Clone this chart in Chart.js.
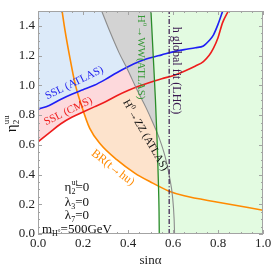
<!DOCTYPE html>
<html>
<head>
<meta charset="utf-8">
<script src="https://cdn.jsdelivr.net/npm/chart.js@4.4.0/dist/chart.umd.min.js"></script>
<style>
  html, body { margin: 0; padding: 0; background: #fff; }
  #wrap { width: 274px; height: 274px; }
</style>
</head>
<body>
<div id="wrap"><canvas id="plot"></canvas></div>
<script>
// curves: sin(alpha) -> eta2^uu
const sslAtlasX = [0, 0.05, 0.1, 0.15, 0.2, 0.25, 0.3, 0.35, 0.4, 0.45, 0.5, 0.55, 0.6, 0.65, 0.7, 0.735, 0.76, 0.78, 0.8, 0.821];
const sslAtlasY = [0.84, 0.865, 0.905, 0.94, 0.97, 1.0, 1.04, 1.085, 1.125, 1.16, 1.185, 1.205, 1.225, 1.24, 1.253, 1.265, 1.3, 1.34, 1.41, 1.5];

const sslCmsX = [0, 0.05, 0.1, 0.15, 0.2, 0.25, 0.3, 0.35, 0.4, 0.45, 0.5, 0.55, 0.6, 0.65, 0.7, 0.735, 0.76, 0.78, 0.8, 0.82, 0.846];
const sslCmsY = [0.62, 0.68, 0.74, 0.785, 0.82, 0.855, 0.89, 0.93, 0.965, 0.995, 1.02, 1.045, 1.065, 1.095, 1.13, 1.16, 1.2, 1.25, 1.32, 1.42, 1.5];

const brX = [0.107, 0.12, 0.14, 0.165, 0.19, 0.23, 0.28, 0.35, 0.43, 0.5, 0.58, 0.65, 0.8, 1.0];
const brY = [1.5, 1.37, 1.2, 1.01, 0.88, 0.71, 0.6, 0.5, 0.41, 0.35, 0.29, 0.257, 0.214, 0.16];

const zzX = [0.283, 0.32, 0.36, 0.40, 0.44, 0.48, 0.51, 0.54, 0.565, 0.585, 0.598, 0.605, 0.607];
const zzY = [1.5, 1.36, 1.22, 1.1, 0.97, 0.85, 0.75, 0.64, 0.52, 0.38, 0.25, 0.1, 0];

const wwX = [0.502, 0.512, 0.522, 0.53, 0.535, 0.538, 0.539];
const wwY = [1.5, 1.2, 0.9, 0.6, 0.35, 0.15, 0];

const hfitX = [0.583, 0.583];
const hfitY = [0, 1.5];

const xTicks = [0, 0.2, 0.4, 0.6, 0.8, 1.0];
const yTicks = [0, 0.2, 0.4, 0.6, 0.8, 1.0, 1.2, 1.4];

const serif = '"Liberation Serif", "DejaVu Serif", serif';

function pts(xs, ys) {
  return xs.map((x, i) => ({x: x, y: ys[i]}));
}

// draw a run of text pieces {t, s (font px), dy, adv}
function richText(ctx, parts, cx, cy, angle, color) {
  ctx.save();
  ctx.translate(cx, cy);
  ctx.rotate(angle * Math.PI / 180);
  ctx.fillStyle = color;
  ctx.textBaseline = 'alphabetic';
  ctx.textAlign = 'left';
  let w = 0, big = 0;
  parts.forEach(p => {
    ctx.font = p.s + 'px ' + serif;
    p.w = ctx.measureText(p.t).width;
    if (p.adv !== false) w += p.w;
    big = Math.max(big, p.s);
  });
  let x = -w / 2;
  const base = big * 0.33;
  parts.forEach(p => {
    ctx.font = p.s + 'px ' + serif;
    ctx.fillText(p.t, x, base + (p.dy || 0));
    if (p.adv !== false) x += p.w;
  });
  ctx.restore();
}

const plain = (t, s) => [{t: t, s: s}];

const decor = {
  id: 'decor',
  afterDatasetsDraw(chart) {
    const {ctx, chartArea: a, scales: {x, y}} = chart;
    ctx.save();
    // frame + inward ticks
    ctx.strokeStyle = '#a3a3a3';
    ctx.lineWidth = 1;
    ctx.strokeRect(a.left + 0.5, a.top + 0.5, a.right - a.left - 1, a.bottom - a.top - 1);
    ctx.beginPath();
    for (let i = 0; i <= 20; i++) {
      const px = Math.round(x.getPixelForValue(i * 0.05)) + 0.5;
      const len = i % 4 === 0 ? 4 : 2;
      ctx.moveTo(px, a.bottom); ctx.lineTo(px, a.bottom - len);
      ctx.moveTo(px, a.top); ctx.lineTo(px, a.top + len);
    }
    for (let i = 0; i <= 30; i++) {
      const py = Math.round(y.getPixelForValue(i * 0.05)) + 0.5;
      const len = i % 4 === 0 ? 4 : 2;
      ctx.moveTo(a.left, py); ctx.lineTo(a.left + len, py);
      ctx.moveTo(a.right, py); ctx.lineTo(a.right - len, py);
    }
    ctx.stroke();
    ctx.restore();

    const at = (sx, eta) => [x.getPixelForValue(sx), y.getPixelForValue(eta)];
    let p;
    p = at(0.16, 1.02);  richText(ctx, plain('SSL (ATLAS)', 11), p[0], p[1], -26, '#2323ee');
    p = at(0.133, 0.83); richText(ctx, plain('SSL (CMS)', 11), p[0], p[1], -26, '#ee2020');
    p = at(0.335, 0.45); richText(ctx, plain('BR(t\u2192hu)', 12), p[0], p[1], 38, '#ff8a00');
    p = at(0.48, 0.666);
    richText(ctx, [{t: 'H', s: 11}, {t: '0', s: 7, dy: -5}, {t: '\u2192ZZ (ATLAS)', s: 11}], p[0], p[1], 60, '#111');
    p = at(0.462, 1.19);
    richText(ctx, [{t: 'H', s: 11}, {t: '0', s: 7, dy: -5}, {t: '\u2192WW(ATLAS)', s: 11}], p[0], p[1], 90, '#3a9a3a');
    p = at(0.618, 1.10); richText(ctx, plain('h global fit (LHC)', 12), p[0], p[1], 90, '#3a1a50');

    // parameter block
    p = at(0.173, 0.318);
    richText(ctx, [{t: '\u03B7', s: 13}, {t: 'ut', s: 8, dy: -6, adv: false}, {t: '2', s: 8, dy: 3}, {t: '=0', s: 13}], p[0], p[1], 0, '#111');
    p = at(0.173, 0.215);
    richText(ctx, [{t: '\u03BB', s: 13}, {t: '3', s: 8, dy: 3}, {t: '=0', s: 13}], p[0], p[1], 0, '#111');
    p = at(0.173, 0.128);
    richText(ctx, [{t: '\u03BB', s: 13}, {t: '7', s: 8, dy: 3}, {t: '=0', s: 13}], p[0], p[1], 0, '#111');
    p = at(0.173, 0.034);
    richText(ctx, [{t: 'm', s: 13}, {t: 'H', s: 8, dy: 3}, {t: '\u00B0', s: 7, dy: 1}, {t: '=500GeV', s: 13}], p[0], p[1], 0, '#111');

    // y axis title
    richText(ctx, [{t: '\u03B7', s: 15}, {t: 'uu', s: 9, dy: -7, adv: false}, {t: '2', s: 9, dy: 3}], 11, 126, -90, '#111');
  }
};

const line = (xs, ys, color, width, extra) => Object.assign({
  data: pts(xs, ys),
  borderColor: color,
  borderWidth: width,
  pointRadius: 0,
  fill: false,
  cubicInterpolationMode: 'monotone'
}, extra || {});

new Chart(document.getElementById('plot'), {
  type: 'line',
  data: {
    datasets: [
      line(wwX, wwY, '#2a8c2a', 1.3),
      line(hfitX, hfitY, '#3a1a50', 1.2, {borderDash: [5, 2, 1, 2]}),
      line(zzX, zzY, '#8c8c8c', 1.1),
      line(sslAtlasX, sslAtlasY, '#1f1ff5', 1.6),
      line(sslCmsX, sslCmsY, '#ee1c1c', 1.6),
      line(brX, brY, '#ff8a00', 1.6),
      // filled regions (drawn underneath all lines)
      line(wwX.concat([1.0]), wwY.concat([0]), 'transparent', 0, {fill: 'end', backgroundColor: '#e3fbe1', cubicInterpolationMode: 'default'}),
      line(zzX, zzY, 'transparent', 0, {fill: 'end', backgroundColor: '#d3d3d3'}),
      line(sslAtlasX, sslAtlasY, 'transparent', 0, {fill: 'end', backgroundColor: '#dceaf9'}),
      line(sslCmsX, sslCmsY, 'transparent', 0, {fill: 'end', backgroundColor: '#fdd9dc'}),
      line(brX, brY, 'transparent', 0, {fill: 'end', backgroundColor: '#fde3cc'})
    ]
  },
  options: {
    responsive: true,
    maintainAspectRatio: false,
    animation: false,
    layout: {padding: {top: 11, right: 11, left: 0, bottom: 0}},
    plugins: {
      legend: {display: false},
      tooltip: {enabled: false},
      filler: {drawTime: 'beforeDatasetsDraw'}
    },
    scales: {
      x: {
        type: 'linear', min: 0, max: 1,
        grid: {display: false, drawTicks: false},
        border: {display: false},
        afterBuildTicks: s => { s.ticks = xTicks.map(v => ({value: v})); },
        afterFit: s => { s.height = 40; },
        ticks: {padding: 2, color: '#222', font: {family: serif, size: 13}, callback: v => v.toFixed(1)},
        title: {display: true, text: 'sin\u03B1', color: '#222', font: {family: serif, size: 13}, padding: {top: 0, bottom: 6}}
      },
      y: {
        type: 'linear', min: 0, max: 1.5,
        grid: {display: false, drawTicks: false},
        border: {display: false},
        afterBuildTicks: s => { s.ticks = yTicks.map(v => ({value: v})); },
        afterFit: s => { s.width = 38; },
        ticks: {padding: 3, color: '#222', font: {family: serif, size: 13}, callback: v => v.toFixed(1)}
      }
    }
  },
  plugins: [decor]
});
</script>
</body>
</html>
